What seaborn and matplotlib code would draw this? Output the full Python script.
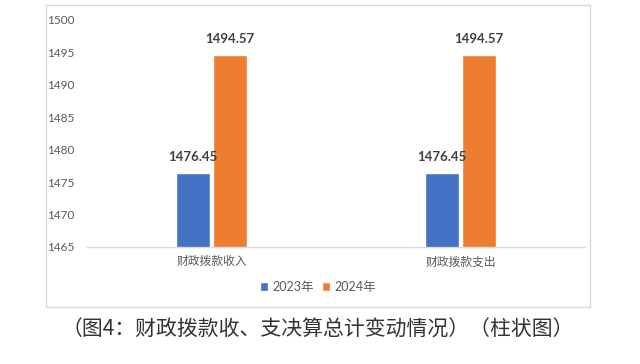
import matplotlib
matplotlib.use("Agg")
import matplotlib.pyplot as plt
import seaborn as sns
import pandas as pd
from matplotlib.patches import Rectangle

categories = ["财政拨款收入", "财政拨款支出"]
years = ["2023年", "2024年"]
values_2023 = [1476.45, 1476.45]
values_2024 = [1494.57, 1494.57]
yticks = [1465, 1470, 1475, 1480, 1485, 1490, 1495, 1500]
caption = "（图4：财政拨款收、支决算总计变动情况）（柱状图）"

df = pd.DataFrame({
    "category": categories * 2,
    "year": [years[0]] * len(categories) + [years[1]] * len(categories),
    "value": values_2023 + values_2024,
})

sns.set_theme(style="white")
plt.rcParams["font.family"] = ["Lato", "Noto Sans CJK SC", "DejaVu Sans"]

fig = plt.figure(figsize=(6.4, 3.64), dpi=100)
ax = fig.add_axes([87/640, 117/364, (585-87)/640, (247-20)/364])

palette = {"2023年": "#4472C4", "2024年": "#ED7D31"}
sns.barplot(data=df, x="category", y="value", hue="year", palette=palette,
            width=0.3, gap=0.1, ax=ax, legend=True, saturation=1)

ax.set_ylim(1465, 1500)
ax.set_xlim(-0.5, 1.5)
ax.set_yticks(yticks)
ax.set_yticklabels([str(t) for t in yticks])
ax.set_xlabel("")
ax.set_ylabel("")
for s in ["top", "right", "left"]:
    ax.spines[s].set_visible(False)
ax.spines["bottom"].set_color("#D9D9D9")
ax.spines["bottom"].set_linewidth(1)
ax.tick_params(axis="both", length=0, colors="#595959", labelsize=8.5)
ax.tick_params(axis="y", pad=9)
ax.tick_params(axis="x", pad=6)
for t in ax.get_xticklabels():
    t.set_fontfamily(["Noto Sans CJK SC"])
    t.set_fontsize(8.5)

for cont in ax.containers:
    ax.bar_label(cont, labels=[f"{v:.2f}" for v in cont.datavalues], padding=7,
                 fontsize=9.5, color="#404040", fontweight="bold")

handles, labels = ax.get_legend_handles_labels()
ax.legend_.remove()
leg = fig.legend(handles, labels, loc="center", bbox_to_anchor=(318/640, (364-287)/364),
                 ncol=2, frameon=False, fontsize=9, handlelength=0.7, handleheight=0.7,
                 handletextpad=0.35, columnspacing=0.6, borderaxespad=0)
for t in leg.get_texts():
    t.set_color("#595959")

fig.patches.append(Rectangle((46/640, (364-307)/364), (590-46)/640, (307-5)/364,
                             transform=fig.transFigure, fill=False,
                             edgecolor="#D9D9D9", linewidth=1))

fig.text(318/640, (364-330)/364, caption, ha="center", va="center", fontsize=15,
         color="#333333", family=["Noto Sans CJK SC"])

fig.savefig("out.png", dpi=100)
